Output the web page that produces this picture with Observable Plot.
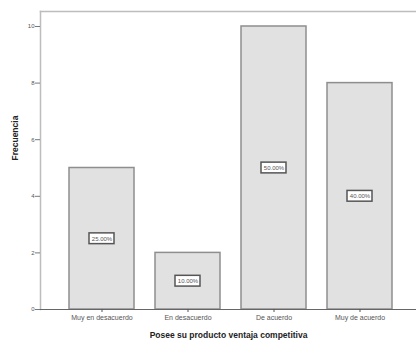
<!DOCTYPE html>
<html>
<head>
<meta charset="utf-8">
<script src="https://cdn.jsdelivr.net/npm/d3@7"></script>
<script src="https://cdn.jsdelivr.net/npm/@observablehq/plot@0.6"></script>
<style>
  html, body { margin: 0; padding: 0; background: #fff; }
  svg { font-family: "Liberation Sans", Arial, sans-serif; }
</style>
</head>
<body>
<div id="chart"></div>
<script>
const categories = ["Muy en desacuerdo", "En desacuerdo", "De acuerdo", "Muy de acuerdo"];
const frequencies = [5, 2, 10, 8];
const percentLabels = ["25.00%", "10.00%", "50.00%", "40.00%"];
const yTicks = [0, 2, 4, 6, 8, 10];
const xTitle = "Posee su producto ventaja competitiva";
const yTitle = "Frecuencia";

const data = categories.map((c, i) => ({cat: c, freq: frequencies[i], pct: percentLabels[i]}));

const chart = Plot.plot({
  width: 416,
  height: 342,
  marginLeft: 40,
  marginRight: 0,
  marginTop: 11,
  marginBottom: 33,
  style: {fontFamily: "Liberation Sans, Arial, sans-serif", background: "#fff"},
  x: {domain: categories, range: [40, 422], paddingInner: 0.24, paddingOuter: 0.336, axis: null},
  y: {domain: [0, 10.53], axis: null},
  marks: [
    Plot.frame({anchor: "top", stroke: "#bdbdbd", strokeWidth: 1.5}),
    Plot.frame({anchor: "left", stroke: "#bdbdbd", strokeWidth: 1.5}),
    Plot.barY(data, {x: "cat", y: "freq", fill: "#e1e1e1", stroke: "#8e8e8e", strokeWidth: 1.5}),
    Plot.barY(data, {x: "cat", y1: d => d.freq / 2 - 0.19, y2: d => d.freq / 2 + 0.19,
      insetLeft: 20, insetRight: 20, fill: "#fff", stroke: "#555", strokeWidth: 1.5}),
    Plot.text(data, {x: "cat", y: d => d.freq / 2, text: "pct", fontSize: 6, fill: "#555"}),
    Plot.ruleY([0], {stroke: "#666", strokeWidth: 1.2}),
    Plot.axisY({ticks: yTicks, tickSize: 5, tickPadding: 1, fontSize: 6, color: "#555", stroke: "#777", label: null}),
    Plot.axisX({tickSize: 3, tickPadding: 3, fontSize: 7, color: "#555", label: null}),
    Plot.text([xTitle], {frameAnchor: "bottom", dy: 28, fontWeight: "bold", fontSize: 8.5, fill: "#222"}),
    Plot.text([yTitle], {frameAnchor: "left", dx: -25, rotate: -90, fontWeight: "bold", fontSize: 8.5, fill: "#222"})
  ]
});
document.getElementById("chart").appendChild(chart);
</script>
</body>
</html>
